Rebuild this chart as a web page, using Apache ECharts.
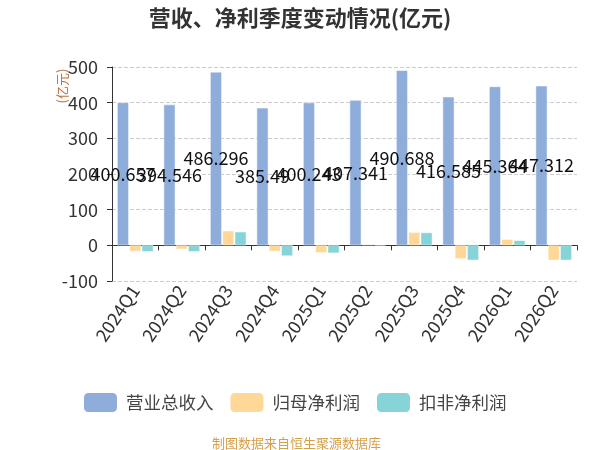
<!DOCTYPE html>
<html>
<head>
<meta charset="utf-8">
<script src="https://cdn.jsdelivr.net/npm/echarts@6/dist/echarts.min.js"></script>
<style>html,body{margin:0;padding:0;background:#fff}#c{width:600px;height:450px}</style>
</head>
<body>
<div id="c"></div>
<script>
const categories = ['2024Q1','2024Q2','2024Q3','2024Q4','2025Q1','2025Q2','2025Q3','2025Q4','2026Q1','2026Q2'];
const revenue = [400.657, 394.546, 486.296, 385.49, 400.243, 407.341, 490.688, 416.585, 445.364, 447.312];
const netProfit = [-17, -11, 41, -17, -21, 3, 37, -38, 17, -42];
const deductedProfit = [-18, -18, 38, -30, -22, 1, 36, -42, 14, -42];
const seriesNames = ['营业总收入', '归母净利润', '扣非净利润'];
const yTicks = { min: -100, max: 500, interval: 100 };

const FONT = '"Noto Sans CJK SC", "Noto Sans", sans-serif';
const chart = echarts.init(document.getElementById('c'));
chart.setOption({
  animation: false,
  textStyle: { fontFamily: FONT },
  color: ['#8EADDB', '#FFD897', '#86D4D7'],
  title: [
    { text: '营收、净利季度变动情况(亿元)', left: 'center', top: 2,
      textStyle: { fontSize: 22, fontWeight: 'bold', color: '#333', fontFamily: FONT } },
    { text: '制图数据来自恒生聚源数据库', left: 207, top: 432,
      textStyle: { fontSize: 13, fontWeight: 'normal', color: '#D6A048', fontFamily: FONT } }
  ],
  graphic: [
    { type: 'text', x: 62, y: 86, rotation: Math.PI / 2,
      style: { text: '(亿元)', fill: '#C0703A', font: '13px ' + FONT, align: 'center', verticalAlign: 'middle' } }
  ],
  legend: {
    data: seriesNames, left: 77, top: 386,
    itemWidth: 35, itemHeight: 21, itemGap: 15,
    textStyle: { fontSize: 17.5, color: '#444', fontFamily: FONT, padding: [0, 0, 0, 3] }
  },
  grid: { left: 112, right: 23, top: 67, bottom: 169 },
  xAxis: {
    type: 'category', data: categories,
    axisLine: { onZero: true, lineStyle: { color: '#333' } },
    axisTick: { show: true, lineStyle: { color: '#333' } },
    axisLabel: { rotate: 56, margin: 6, fontSize: 18, color: '#333', interval: 0 }
  },
  yAxis: {
    type: 'value', min: yTicks.min, max: yTicks.max, interval: yTicks.interval,
    axisLine: { show: true, lineStyle: { color: '#333' } },
    axisTick: { show: true, lineStyle: { color: '#333' } },
    axisLabel: { fontSize: 18, color: '#333', margin: 14 },
    splitLine: { lineStyle: { type: 'dashed', color: '#ccc' } }
  },
  series: [
    { name: seriesNames[0], type: 'bar', data: revenue, barGap: '5%', barCategoryGap: '22%',
      itemStyle: { borderColor: '#fff', borderWidth: 0.5 },
      label: { show: true, position: 'inside', fontSize: 18, color: '#111', fontFamily: FONT } },
    { name: seriesNames[1], type: 'bar', data: netProfit,
      itemStyle: { borderColor: '#fff', borderWidth: 0.5 } },
    { name: seriesNames[2], type: 'bar', data: deductedProfit,
      itemStyle: { borderColor: '#fff', borderWidth: 0.5 } }
  ]
});
</script>
</body>
</html>
